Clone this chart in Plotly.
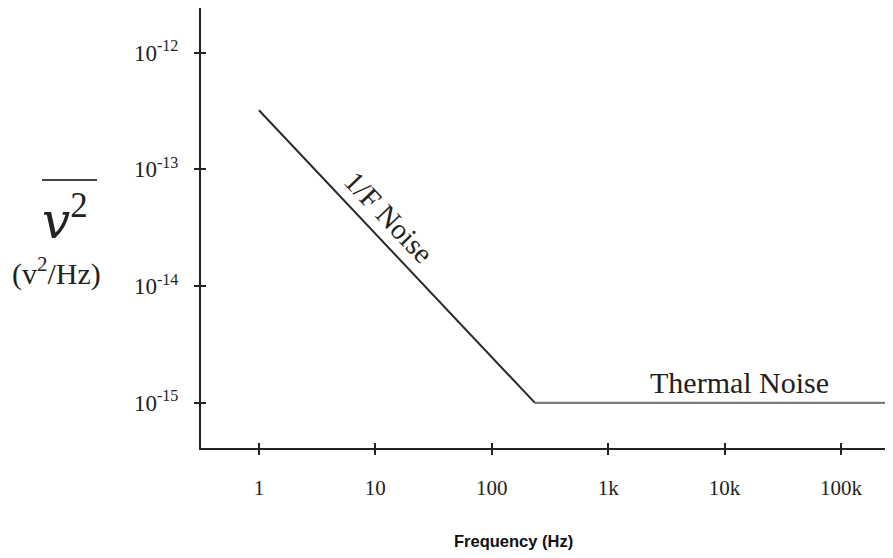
import plotly.graph_objects as go

# Data
flicker_freq = [1, 235]
flicker_psd = [3.2e-13, 1.0e-15]
thermal_freq = [235, 1e6]
thermal_psd = [1.0e-15, 1.0e-15]

x_tickvals = [1, 10, 100, 1000, 10000, 100000]
x_ticktext = ["1", "10", "100", "1k", "10k", "100k"]
y_tickvals = [1e-12, 1e-13, 1e-14, 1e-15]
y_ticktext = ["10<sup>-12</sup>", "10<sup>-13</sup>", "10<sup>-14</sup>", "10<sup>-15</sup>"]

serif = "Liberation Serif, Times New Roman, serif"

fig = go.Figure()
fig.add_trace(go.Scatter(x=flicker_freq, y=flicker_psd, mode="lines",
                         line=dict(color="#2a2a2a", width=2), showlegend=False))
fig.add_trace(go.Scatter(x=thermal_freq, y=thermal_psd, mode="lines",
                         line=dict(color="#7a7a7a", width=2.2), showlegend=False))

xr = [-0.498, 5.447]
yr = [-15.386, -11.619]

fig.update_layout(
    width=885, height=550,
    margin=dict(l=193, r=0, t=0, b=110),
    paper_bgcolor="white", plot_bgcolor="white",
    xaxis=dict(type="log", range=xr, tickvals=x_tickvals, ticktext=x_ticktext,
               showgrid=False, zeroline=False, showline=True, linecolor="#222", linewidth=2,
               ticks="outside", ticklen=5, tickwidth=1.5, tickcolor="#222",
               ticklabelstandoff=15,
               tickfont=dict(family=serif, size=21, color="#222")),
    yaxis=dict(type="log", range=yr, tickvals=y_tickvals, ticktext=y_ticktext,
               showgrid=False, zeroline=False, showline=True, linecolor="#222", linewidth=2,
               ticks="outside", ticklen=5, tickwidth=1.5, tickcolor="#222",
               ticklabelstandoff=11,
               tickfont=dict(family=serif, size=23, color="#222")),
    xaxis2=dict(type="log", range=xr, tickvals=x_tickvals, overlaying="x", anchor="y",
                side="bottom", showticklabels=False, showgrid=False, zeroline=False,
                ticks="inside", ticklen=5, tickwidth=1.5, tickcolor="#222"),
    yaxis2=dict(type="log", range=yr, tickvals=y_tickvals, overlaying="y", anchor="x",
                side="left", showticklabels=False, showgrid=False, zeroline=False,
                ticks="inside", ticklen=5, tickwidth=1.5, tickcolor="#222"),
)
# dummy trace to activate overlay axes
fig.add_trace(go.Scatter(x=[None], y=[None], xaxis="x2", yaxis="y2", showlegend=False, hoverinfo="skip"))

# Annotations
fig.add_annotation(x=1.115, y=-13.41, xref="x", yref="y", text="1/F Noise",
                   textangle=46.5, showarrow=False,
                   font=dict(family=serif, size=29, color="#222"))
fig.add_annotation(x=4.124, y=-14.823, xref="x", yref="y", text="Thermal Noise",
                   showarrow=False, font=dict(family=serif, size=30, color="#222"))

# x-axis title
fig.add_annotation(xref="paper", yref="paper", x=0.451, y=-0.211, xanchor="center", yanchor="middle",
                   text="<b>Frequency (Hz)</b>", showarrow=False,
                   font=dict(family="Liberation Sans, Arial, sans-serif", size=16.5, color="#111"))

# y-axis label: overlined v^2 and units
fig.add_annotation(xref="paper", yref="paper", x=-0.1965, y=0.5227, xanchor="center", yanchor="middle",
                   text="<span style=\"font-family:'DejaVu Serif'\"><i>v</i></span><sup>2</sup>",
                   showarrow=False,
                   font=dict(family=serif, size=50, color="#222"))
fig.add_shape(type="line", xref="paper", yref="paper", x0=-0.2298, x1=-0.1503, y0=0.609, y1=0.609,
              line=dict(color="#444", width=2))
fig.add_annotation(xref="paper", yref="paper", x=-0.2095, y=0.402, xanchor="center", yanchor="middle",
                   text="(v<sup>2</sup>/Hz)", showarrow=False,
                   font=dict(family=serif, size=30, color="#222"))

fig.write_html("out.html")
